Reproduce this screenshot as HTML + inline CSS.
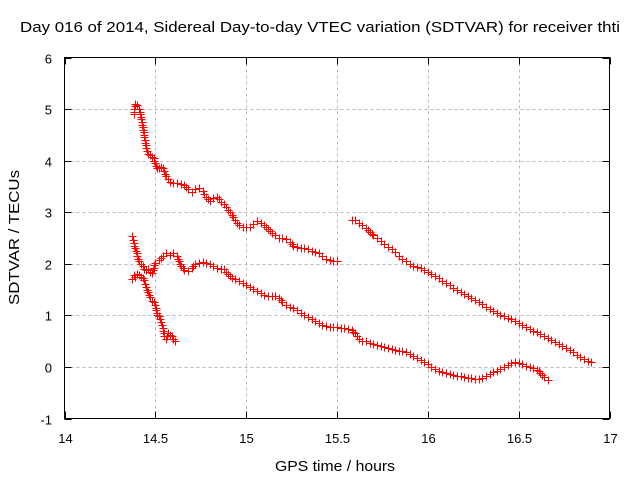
<!DOCTYPE html>
<html><head><meta charset="utf-8"><style>
body{margin:0;background:#fff;}
svg{display:block;font-family:"Liberation Sans",sans-serif;}
</style></head><body>
<svg id="chart" width="640" height="480" viewBox="0 0 640 480" xmlns="http://www.w3.org/2000/svg">
<rect width="640" height="480" fill="#fff"/>
<text x="20" y="32" font-size="15" textLength="600" lengthAdjust="spacingAndGlyphs">Day 016 of 2014, Sidereal Day-to-day VTEC variation (SDTVAR) for receiver thti</text>
<text x="275" y="471" font-size="15" textLength="120" lengthAdjust="spacingAndGlyphs">GPS time / hours</text>
<text transform="translate(19,305) rotate(-90)" font-size="15" textLength="135" lengthAdjust="spacingAndGlyphs">SDTVAR / TECUs</text>
<g id="grid"></g>
<g id="ticks"></g>
<g id="series"></g>
<rect x="64.5" y="57.5" width="545" height="361" fill="none" stroke="#000" stroke-width="1"/>
</svg>
<script>
const xTicks=[14,14.5,15,15.5,16,16.5,17];
const xTickLabels=["14","14.5","15","15.5","16","16.5","17"];
const yTicks=[-1,0,1,2,3,4,5,6];
const yTickLabels=["-1","0","1","2","3","4","5","6"];
const seriesA_x=[14.38,14.39,14.40,14.41,14.42,14.43,14.44,14.45,14.46,14.47,14.48,14.49,14.50,14.51,14.52,14.53,14.54,14.55,14.56,14.57,14.58,14.60,14.62,14.64,14.66,14.68,14.70,14.72,14.74,14.76,14.78,14.80,14.82,14.84,14.86,14.88,14.90,14.92,14.94,14.96,14.98,15.00,15.02,15.04,15.06,15.08,15.10,15.12,15.14,15.16,15.18,15.20,15.22,15.24,15.26,15.28,15.30,15.32,15.34,15.36,15.38,15.40,15.42,15.44,15.46,15.48,15.50];
const seriesA_y=[4.9,5.1,5.08,5.0,4.85,4.65,4.45,4.25,4.12,4.1,4.08,4.05,3.95,3.85,3.85,3.88,3.85,3.8,3.7,3.65,3.58,3.57,3.56,3.55,3.52,3.45,3.4,3.45,3.46,3.42,3.3,3.22,3.28,3.3,3.2,3.15,3.05,2.95,2.85,2.75,2.72,2.72,2.72,2.78,2.82,2.8,2.75,2.68,2.6,2.55,2.5,2.5,2.48,2.42,2.35,2.32,2.3,2.3,2.28,2.25,2.22,2.2,2.15,2.1,2.07,2.06,2.05];
const seriesB_x=[15.58,15.60,15.62,15.64,15.66,15.68,15.70,15.72,15.74,15.76,15.78,15.80,15.82,15.84,15.86,15.88,15.90,15.92,15.94,15.96,15.98,16.00,16.02,16.04,16.06,16.08,16.10,16.12,16.14,16.16,16.18,16.20,16.22,16.24,16.26,16.28,16.30,16.32,16.34,16.36,16.38,16.40,16.42,16.44,16.46,16.48,16.50,16.52,16.54,16.56,16.58,16.60,16.62,16.64,16.66,16.68,16.70,16.72,16.74,16.76,16.78,16.80,16.82,16.84,16.86,16.88,16.90];
const seriesB_y=[2.85,2.84,2.8,2.76,2.7,2.62,2.55,2.5,2.44,2.38,2.33,2.28,2.22,2.16,2.1,2.05,2.0,1.96,1.94,1.92,1.88,1.85,1.8,1.76,1.72,1.67,1.62,1.58,1.54,1.5,1.46,1.42,1.38,1.34,1.3,1.26,1.22,1.17,1.13,1.09,1.05,1.01,0.98,0.95,0.92,0.89,0.86,0.82,0.78,0.74,0.7,0.67,0.63,0.6,0.56,0.52,0.48,0.44,0.4,0.36,0.32,0.28,0.24,0.2,0.16,0.12,0.1];
const seriesC_x=[14.37,14.38,14.39,14.40,14.41,14.42,14.43,14.44,14.45,14.46,14.47,14.48,14.50,14.52,14.54,14.56,14.58,14.60,14.62,14.64,14.66,14.68,14.70,14.72,14.74,14.76,14.78,14.80,14.82,14.84,14.86,14.88,14.90,14.92,14.94,14.96,14.98,15.00,15.02,15.04,15.06,15.08,15.10,15.12,15.14,15.16,15.18,15.20,15.22,15.24,15.26,15.28,15.30,15.32,15.34,15.36,15.38,15.40,15.42,15.44,15.46,15.48,15.50,15.52,15.54,15.56,15.58,15.60,15.62,15.64,15.66,15.68,15.70,15.72,15.74,15.76,15.78,15.80,15.82,15.84,15.86,15.88,15.90,15.92,15.94,15.96,15.98,16.00,16.02,16.04,16.06,16.08,16.10,16.12,16.14,16.16,16.18,16.20,16.22,16.24,16.26,16.28,16.30,16.32,16.34,16.36,16.38,16.40,16.42,16.44,16.46,16.48,16.50,16.52,16.54,16.56,16.58,16.60,16.62,16.64,16.66];
const seriesC_y=[2.53,2.4,2.3,2.15,2.05,2.0,1.95,1.9,1.88,1.9,1.85,1.82,2.02,2.08,2.15,2.2,2.18,2.2,2.15,1.95,1.88,1.86,1.92,2.0,2.02,2.03,2.02,2.0,1.95,1.92,1.9,1.9,1.8,1.72,1.7,1.66,1.62,1.58,1.55,1.52,1.48,1.44,1.4,1.38,1.38,1.38,1.33,1.25,1.2,1.17,1.14,1.1,1.05,1.0,0.97,0.93,0.9,0.86,0.82,0.8,0.78,0.78,0.77,0.76,0.75,0.74,0.72,0.65,0.55,0.5,0.5,0.46,0.44,0.42,0.4,0.38,0.36,0.34,0.32,0.3,0.3,0.28,0.25,0.22,0.18,0.14,0.1,0.05,0.0,-0.04,-0.08,-0.1,-0.12,-0.14,-0.16,-0.17,-0.18,-0.2,-0.21,-0.22,-0.23,-0.24,-0.22,-0.18,-0.14,-0.1,-0.07,-0.04,0.0,0.04,0.07,0.09,0.08,0.05,0.02,0.0,-0.02,-0.05,-0.12,-0.2,-0.26];
const seriesD_x=[14.37,14.38,14.39,14.40,14.41,14.42,14.43,14.44,14.45,14.46,14.47,14.48,14.49,14.50,14.51,14.52,14.53,14.54,14.55,14.56,14.57,14.58,14.59,14.60,14.61];
const seriesD_y=[1.7,1.78,1.75,1.8,1.78,1.75,1.72,1.68,1.55,1.45,1.35,1.28,1.25,1.2,1.0,0.98,0.88,0.75,0.6,0.55,0.65,0.62,0.6,0.55,0.5];

const X0=64.5,X1=609.5,Y0=418.5,Y1=57.5;
function sx(v){return X0+(v-14)/(17-14)*(X1-X0);}
function sy(v){return Y0-(v+1)/(6+1)*(Y0-Y1);}
const NS="http://www.w3.org/2000/svg";
const grid=document.getElementById('grid'),ticks=document.getElementById('ticks'),ser=document.getElementById('series');
function mk(tag,attrs,parent){const e=document.createElementNS(NS,tag);for(const k in attrs)e.setAttribute(k,attrs[k]);parent.appendChild(e);return e;}
xTicks.forEach((t,i)=>{
  const x=Math.round(sx(t))+0.5;
  if(i>0&&i<xTicks.length-1){const g=mk('line',{x1:x,y1:Y1,x2:x,y2:Y0,stroke:'#b8b8b8','stroke-dasharray':'3,3'},grid);
  
  }
  mk('line',{x1:x,y1:Y0,x2:x,y2:Y0-7,stroke:'#000'},ticks);
  mk('line',{x1:x,y1:Y1,x2:x,y2:Y1+7,stroke:'#000'},ticks);
  const tx=mk('text',{x:x,y:443,'font-size':'13','text-anchor':'middle'},ticks);
  tx.textContent=xTickLabels[i];
  
  
});
yTicks.forEach((t,i)=>{
  const y=Math.round(sy(t))+0.5;
  if(i>0&&i<yTicks.length-1){const g=mk('line',{x1:X0,y1:y,x2:X1,y2:y,stroke:'#b8b8b8','stroke-dasharray':'3,3'},grid);
  
  }
  mk('line',{x1:X0,y1:y,x2:X0+7,y2:y,stroke:'#000'},ticks);
  mk('line',{x1:X1,y1:y,x2:X1-7,y2:y,stroke:'#000'},ticks);
  const tx=mk('text',{x:52,y:y+5,'font-size':'13','text-anchor':'end'},ticks);
  tx.textContent=yTickLabels[i];
  
  
});
function drawSeries(xs,ys,name){
  let d='';
  xs.forEach((xv,i)=>{const x=Math.round(sx(xv))+0.5,y=Math.round(sy(ys[i]))+0.5;
    d+=`M${x-4},${y}H${x+4}M${x},${y-4}V${y+4}`;
    if(i<xs.length-1){const x2=sx(xs[i+1]),y2=sy(ys[i+1]);
      const n=Math.max(1,Math.floor(Math.hypot(x2-sx(xv),y2-sy(ys[i]))/2.5));
      for(let k=1;k<n;k++){const xi=Math.round(sx(xv)+(x2-sx(xv))*k/n)+0.5,yi=Math.round(sy(ys[i])+(y2-sy(ys[i]))*k/n)+0.5;
        d+=`M${xi-4},${yi}H${xi+4}M${xi},${yi-4}V${yi+4}`;}}
  });
  const p=mk('path',{d:d,stroke:'#ff0000','stroke-width':'1',fill:'none'},ser);
  
  
}
drawSeries(seriesA_x,seriesA_y,'series-upper-left');
drawSeries(seriesB_x,seriesB_y,'series-upper-right');
drawSeries(seriesC_x,seriesC_y,'series-lower-long');
drawSeries(seriesD_x,seriesD_y,'series-lower-short');
</script>
</body></html>
